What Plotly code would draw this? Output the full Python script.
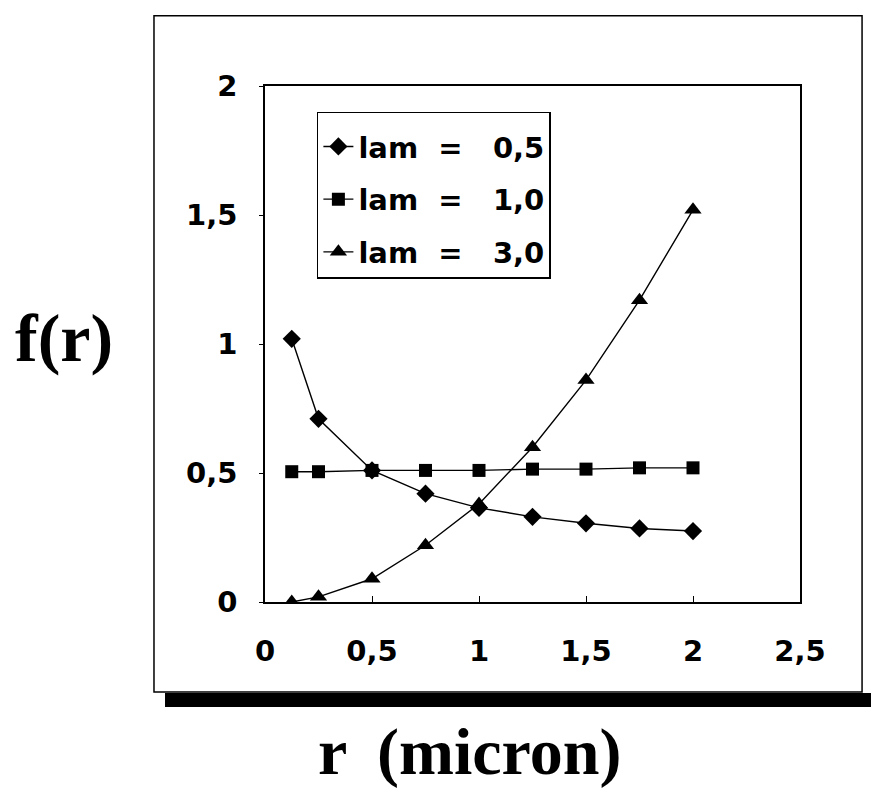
import plotly.graph_objects as go

r_values = [0.125, 0.25, 0.5, 0.75, 1.0, 1.25, 1.5, 1.75, 2.0]
f_lam_05 = [1.02, 0.71, 0.51, 0.42, 0.365, 0.33, 0.305, 0.285, 0.275]
f_lam_10 = [0.505, 0.505, 0.51, 0.51, 0.51, 0.515, 0.515, 0.52, 0.52]
f_lam_30 = [0.0, 0.02, 0.09, 0.22, 0.38, 0.60, 0.86, 1.17, 1.52]

series_names = ["lam\u00a0\u00a0=\u00a0\u00a0\u00a00,5", "lam\u00a0\u00a0=\u00a0\u00a0\u00a01,0", "lam\u00a0\u00a0=\u00a0\u00a0\u00a03,0"]
series_symbols = ["diamond", "square", "triangle-up"]
series_sizes = [14, 13, 15]

x_tick_vals = [0, 0.5, 1, 1.5, 2, 2.5]
x_tick_text = ["0", "0,5", "1", "1,5", "2", "2,5"]
y_tick_vals = [0, 0.5, 1, 1.5, 2]
y_tick_text = ["0", "0,5", "1", "1,5", "2"]

fig = go.Figure()
for name, ys, sym, sz in zip(series_names, [f_lam_05, f_lam_10, f_lam_30], series_symbols, series_sizes):
    fig.add_trace(go.Scatter(
        x=r_values, y=ys, name=name, mode="lines+markers",
        line=dict(color="black", width=1.4),
        marker=dict(symbol=sym, size=sz, color="black"),
        legendgroup=name,
    ))

tick_font = dict(family="DejaVu Sans", size=29, color="black", weight="bold")

fig.update_layout(
    width=871, height=792,
    margin=dict(l=265, r=71, t=86, b=190),
    paper_bgcolor="white", plot_bgcolor="white",
    showlegend=True,
    legend=dict(
        x=0.097, y=0.950, xanchor="left", yanchor="top",
        bordercolor="black", borderwidth=1.5, bgcolor="white",
        font=dict(family="DejaVu Sans", size=29, color="black", weight="bold"),
        title=dict(text="\u00a0", font=dict(size=6)),
        tracegroupgap=12, itemwidth=30,
    ),
    xaxis=dict(
        range=[0, 2.5], tickvals=x_tick_vals, ticktext=x_tick_text,
        ticks="inside", ticklen=6, tickcolor="black",
        showline=True, linecolor="black", linewidth=1.5, mirror=True,
        showgrid=False, zeroline=False, tickfont=tick_font,
        ticklabelstandoff=22,
    ),
    yaxis=dict(
        range=[0, 2], tickvals=y_tick_vals, ticktext=y_tick_text,
        ticks="outside", ticklen=4, tickcolor="black",
        showline=True, linecolor="black", linewidth=1.5, mirror=True,
        showgrid=False, zeroline=False, tickfont=tick_font,
        ticklabelstandoff=16,
    ),
    annotations=[
        dict(text="f(r)", xref="paper", yref="paper", x=-0.3757, y=0.512,
             xanchor="center", yanchor="middle", showarrow=False,
             font=dict(family="Liberation Serif, Times New Roman", size=68, color="black", weight="bold")),
        dict(text="r\u00a0\u2009(micron)", xref="paper", yref="paper", x=0.383, y=-0.291,
             xanchor="center", yanchor="middle", showarrow=False,
             font=dict(family="Liberation Serif, Times New Roman", size=66, color="black", weight="bold")),
    ],
    shapes=[
        dict(type="rect", xref="paper", yref="paper", x0=-0.1869, x1=1.1327, y0=-0.2035, y1=-0.1763,
             fillcolor="black", line=dict(width=0), layer="below"),
        dict(type="rect", xref="paper", yref="paper", x0=-0.2075, x1=1.116, y0=-0.1744, y1=1.136,
             fillcolor="white", line=dict(color="black", width=1.5), layer="below"),
    ],
)

fig.write_html("out.html")
